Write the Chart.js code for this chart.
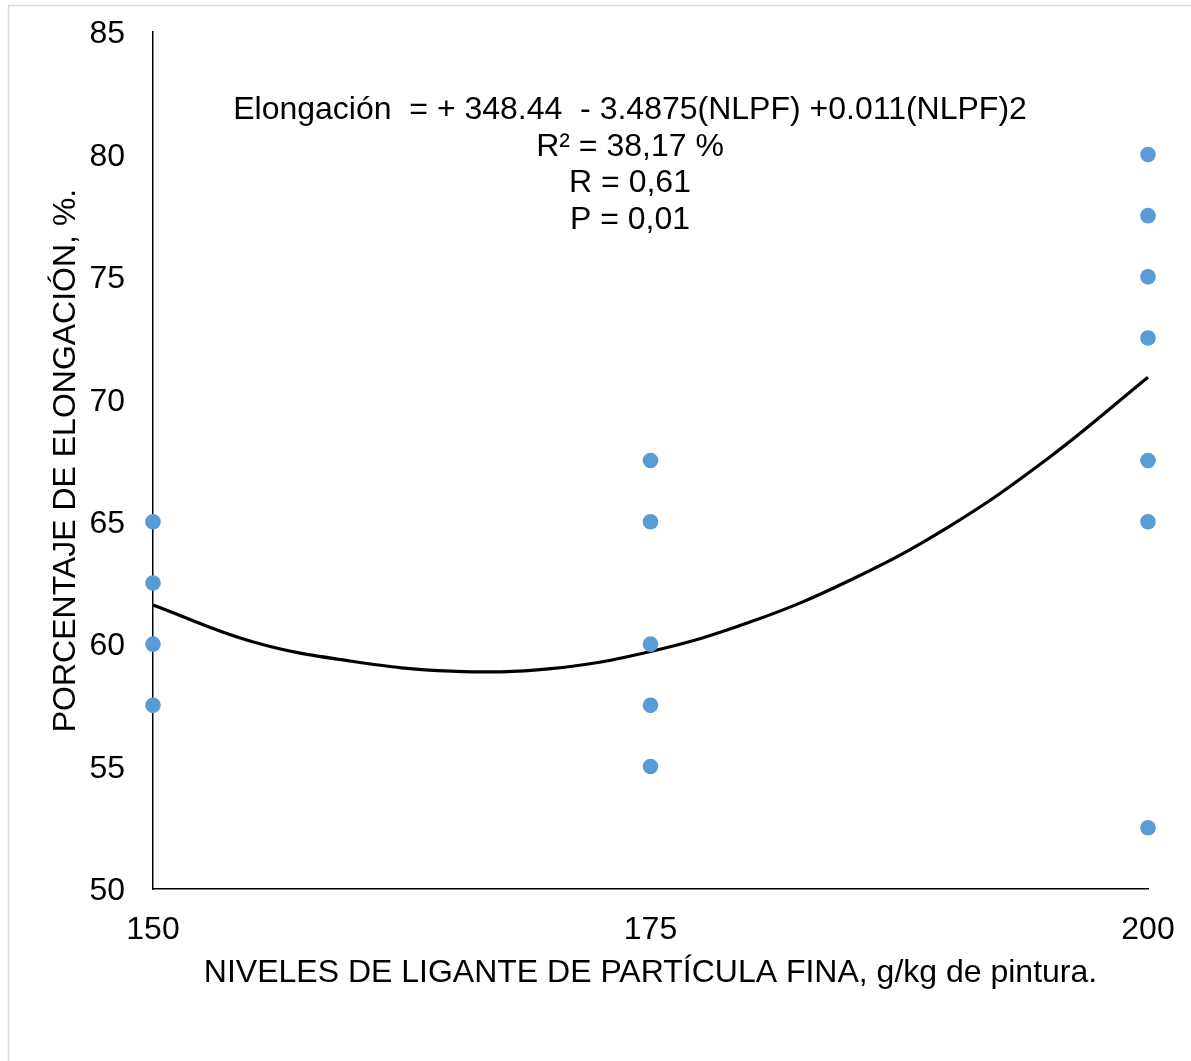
<!DOCTYPE html>
<html>
<head>
<meta charset="utf-8">
<script src="https://cdn.jsdelivr.net/npm/chart.js@4"></script>
<style>
  html, body { margin: 0; padding: 0; background: #fff; }
  #wrap { position: absolute; left: 0; top: 0; width: 1191px; height: 1061px; }
</style>
</head>
<body>
<div id="wrap"><canvas id="c" width="1191" height="1061"></canvas></div>
<script>
// Observed data points (x = level, y = % elongation)
const pointsX = [150, 150, 150, 150, 175, 175, 175, 175, 175, 200, 200, 200, 200, 200, 200, 200];
const pointsY = [65, 62.5, 60, 57.5, 67.5, 65, 60, 57.5, 55, 80, 77.5, 75, 72.5, 67.5, 65, 52.5];

// Trend curve values
const curveX = [150, 155, 160, 165, 170, 175, 180, 185, 190, 195, 200];
const curveY = [61.6, 60.1, 59.3, 58.9, 59.0, 59.7, 60.9, 62.6, 64.8, 67.6, 70.9];

const xTicks = [150, 175, 200];
const yTicks = [50, 55, 60, 65, 70, 75, 80, 85];

const annotationLines = [
  'Elongación  = + 348.44  - 3.4875(NLPF) +0.011(NLPF)2',
  'R² = 38,17 %',
  'R = 0,61',
  'P = 0,01'
];
const xTitle = 'NIVELES DE LIGANTE DE PARTÍCULA FINA, g/kg de pintura.';
const yTitle = 'PORCENTAJE DE ELONGACIÓN, %.';

const FONT = "'Liberation Sans', Arial, sans-serif";
const FS = 32;

const framePlugin = {
  id: 'frame',
  beforeDraw(chart) {
    const ctx = chart.ctx;
    ctx.save();
    ctx.fillStyle = '#ffffff';
    ctx.fillRect(0, 0, chart.width, chart.height);
    ctx.strokeStyle = '#d9d9d9';
    ctx.lineWidth = 1.5;
    ctx.strokeRect(8.5, 5.5, chart.width + 10, chart.height + 10);
    ctx.restore();
  },
  afterDraw(chart) {
    const ctx = chart.ctx;
    ctx.save();
    ctx.fillStyle = '#000000';
    ctx.font = FS + 'px ' + FONT;
    ctx.textAlign = 'center';
    ctx.textBaseline = 'middle';
    const cx = 630;
    const y0 = 110;
    const step = 36.7;
    annotationLines.forEach((t, i) => ctx.fillText(t, cx, y0 + i * step));
    ctx.restore();
  }
};

new Chart(document.getElementById('c'), {
  type: 'scatter',
  data: {
    datasets: [
      {
        label: 'Observado',
        data: pointsX.map((x, i) => ({ x: x, y: pointsY[i] })),
        backgroundColor: '#5b9bd5',
        borderWidth: 0,
        pointRadius: 7.8,
        pointHoverRadius: 7.8,
        clip: false,
        order: 1
      },
      {
        label: 'Tendencia',
        type: 'line',
        data: curveX.map((x, i) => ({ x: x, y: curveY[i] })),
        borderColor: '#000000',
        borderWidth: 3.2,
        pointRadius: 0,
        fill: false,
        tension: 0.4,
        clip: false,
        order: 2
      }
    ]
  },
  options: {
    responsive: false,
    animation: false,
    devicePixelRatio: 1,
    layout: { padding: { left: 0, top: 32, right: 43, bottom: 0 } },
    plugins: {
      legend: { display: false },
      tooltip: { enabled: false },
      title: { display: false }
    },
    scales: {
      x: {
        type: 'linear',
        min: 150,
        max: 200,
        afterBuildTicks(scale) { scale.ticks = xTicks.map(v => ({ value: v })); },
        afterFit(scale) {
          scale.height = 172;
          scale.paddingLeft = 0; scale.paddingRight = 0;
          scale.paddingTop = 0; scale.paddingBottom = 0;
        },
        grid: { display: false, drawTicks: false },
        border: { display: true, color: '#000000', width: 1.5 },
        ticks: {
          color: '#000000',
          padding: 22,
          font: { family: FONT, size: FS },
          maxRotation: 0,
          autoSkip: false
        },
        title: {
          display: true,
          text: xTitle,
          color: '#000000',
          font: { family: FONT, size: FS },
          padding: { top: 0, bottom: 69 }
        }
      },
      y: {
        type: 'linear',
        min: 50,
        max: 85,
        afterBuildTicks(scale) { scale.ticks = yTicks.map(v => ({ value: v })); },
        afterFit(scale) {
          scale.width = 153;
          scale.paddingLeft = 0; scale.paddingRight = 0;
          scale.paddingTop = 0; scale.paddingBottom = 0;
        },
        grid: { display: false, drawTicks: false },
        border: { display: true, color: '#000000', width: 1.5 },
        ticks: {
          color: '#000000',
          padding: 28,
          labelOffset: 2.5,
          font: { family: FONT, size: FS },
          autoSkip: false
        },
        title: {
          display: true,
          text: yTitle,
          color: '#000000',
          font: { family: FONT, size: FS },
          padding: { top: 47, bottom: 0 }
        }
      }
    }
  },
  plugins: [framePlugin]
});
</script>
</body>
</html>
